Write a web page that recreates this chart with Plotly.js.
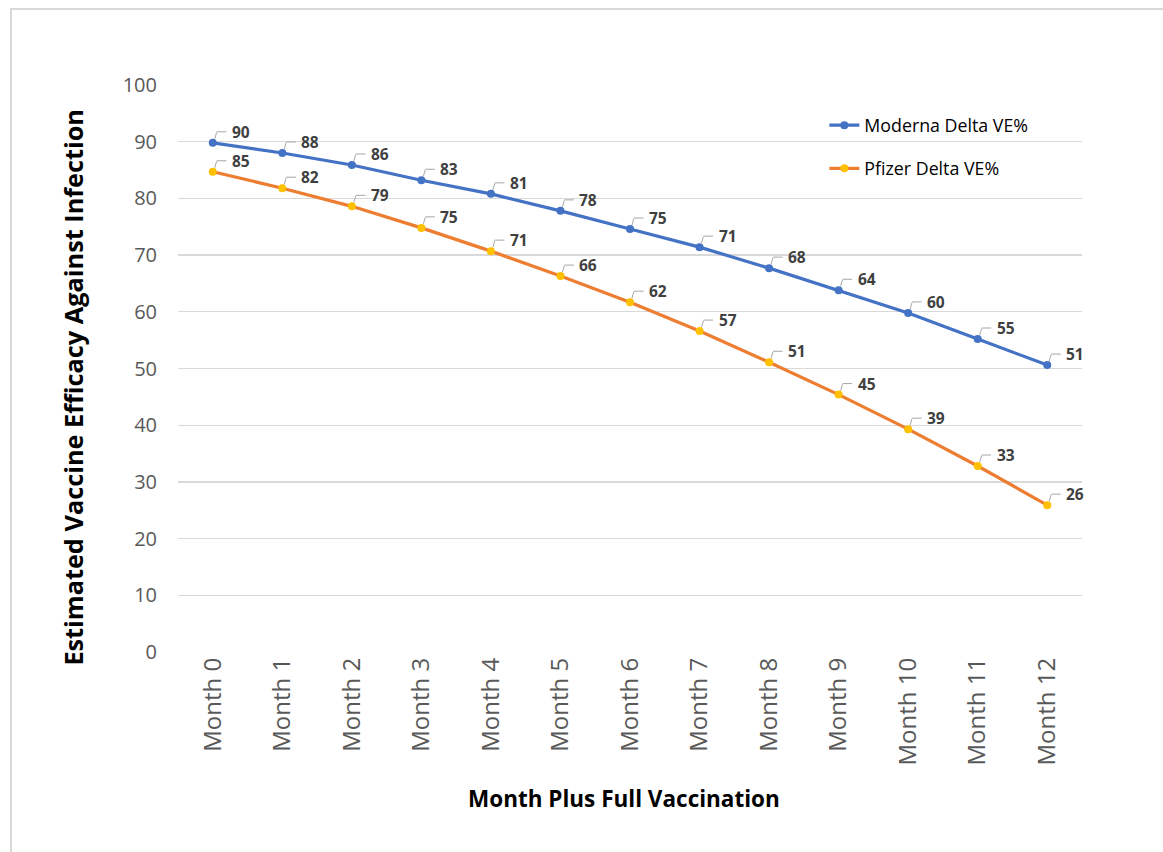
<!DOCTYPE html>
<html>
<head>
<meta charset="utf-8">
<script src="https://cdn.plot.ly/plotly-3.0.1.min.js"></script>
<style>
  html, body { margin: 0; padding: 0; background: #fff; overflow: hidden; }
  #chart { position: absolute; left: 0; top: 0; width: 1163px; height: 852px; }
  #frame { position: absolute; left: 10px; top: 8px; width: 1170px; height: 870px;
           border: 2px solid #d9d9d9; pointer-events: none; box-sizing: border-box; }
</style>
</head>
<body>
<div id="chart"></div>
<div id="frame"></div>
<script>
const categories = ["Month 0","Month 1","Month 2","Month 3","Month 4","Month 5","Month 6",
                    "Month 7","Month 8","Month 9","Month 10","Month 11","Month 12"];
const modernaValues = [89.8, 88.0, 85.9, 83.2, 80.8, 77.8, 74.6, 71.4, 67.7, 63.8, 59.8, 55.2, 50.6];
const pfizerValues  = [84.7, 81.8, 78.6, 74.8, 70.7, 66.3, 61.7, 56.6, 51.1, 45.4, 39.3, 32.8, 25.9];
const modernaName = "Moderna Delta VE%";
const pfizerName  = "Pfizer Delta VE%";
const yTickVals = [0,10,20,30,40,50,60,70,80,90,100];

const FONT = "'Open Sans', 'Noto Sans', sans-serif";

const traces = [
  { x: categories, y: modernaValues, name: modernaName, type: "scatter", mode: "lines+markers",
    legendgroup: "a",
    line: { color: "#4472C4", width: 3.2 },
    marker: { color: "#4472C4", size: 8 } },
  { x: categories, y: pfizerValues, name: pfizerName, type: "scatter", mode: "lines+markers",
    legendgroup: "b",
    line: { color: "#ED7D31", width: 3.2 },
    marker: { color: "#FFC000", size: 8 } }
];

const annotations = [];
function addLabels(vals) {
  vals.forEach((v, i) => {
    const x = categories[i];
    annotations.push({ x: x, y: v, xref: "x", yref: "y", text: String(Math.round(v)),
      showarrow: false, xanchor: "left", yanchor: "middle", xshift: 17, yshift: 11,
      font: { family: FONT, size: 15.5, color: "#404040", weight: "bold" } });
    // leader line: slanted segment
    annotations.push({ x: x, y: v, xref: "x", yref: "y", text: "", showarrow: true,
      arrowhead: 0, arrowwidth: 1, arrowcolor: "#a6a6a6", standoff: 0, borderpad: 0,
      xshift: 2, yshift: 4, ax: 2, ay: -7 });
    // leader line: horizontal segment
    annotations.push({ x: x, y: v, xref: "x", yref: "y", text: "", showarrow: true,
      arrowhead: 0, arrowwidth: 1, arrowcolor: "#a6a6a6", standoff: 0, borderpad: 0,
      xshift: 4, yshift: 11, ax: 10, ay: 0 });
  });
}
addLabels(modernaValues);
addLabels(pfizerValues);

annotations.push({ xref: "paper", yref: "paper", x: -0.1157, y: 0.467, textangle: -90,
  text: "Estimated Vaccine Efficacy Against Infection", showarrow: false,
  xanchor: "center", yanchor: "middle",
  font: { family: FONT, size: 25.3, color: "#000000", weight: "bold" } });
annotations.push({ xref: "paper", yref: "paper", x: 0.4934, y: -0.2575,
  text: "Month Plus Full Vaccination", showarrow: false,
  xanchor: "center", yanchor: "middle",
  font: { family: FONT, size: 22.5, color: "#000000", weight: "bold" } });

const layout = {
  width: 1163, height: 852,
  margin: { l: 178, r: 81, t: 85, b: 200 },
  paper_bgcolor: "rgba(0,0,0,0)", plot_bgcolor: "#ffffff",
  font: { family: FONT, color: "#595959" },
  showlegend: true,
  legend: { x: 0.715, y: 0.961, xanchor: "left", yanchor: "top",
    bgcolor: "rgba(0,0,0,0)", font: { family: FONT, size: 17.8, color: "#000000" },
    traceorder: "grouped", tracegroupgap: 17, itemwidth: 30 },
  xaxis: { type: "category", range: [-0.5, 12.5], tickangle: -90,
    tickfont: { family: FONT, size: 24, color: "#595959" },
    showgrid: false, showline: false, zeroline: false, ticks: "", ticklen: 0,
    automargin: false },
  yaxis: { range: [0, 100], tickvals: yTickVals, showgrid: true, gridcolor: "#d9d9d9",
    gridwidth: 1.3, zeroline: false, showline: false, ticks: "", ticklabelstandoff: 20,
    tickfont: { family: FONT, size: 20, color: "#595959" }, automargin: false },
  annotations: annotations
};

Plotly.newPlot("chart", traces, layout, { displayModeBar: false, staticPlot: true });
</script>
</body>
</html>
